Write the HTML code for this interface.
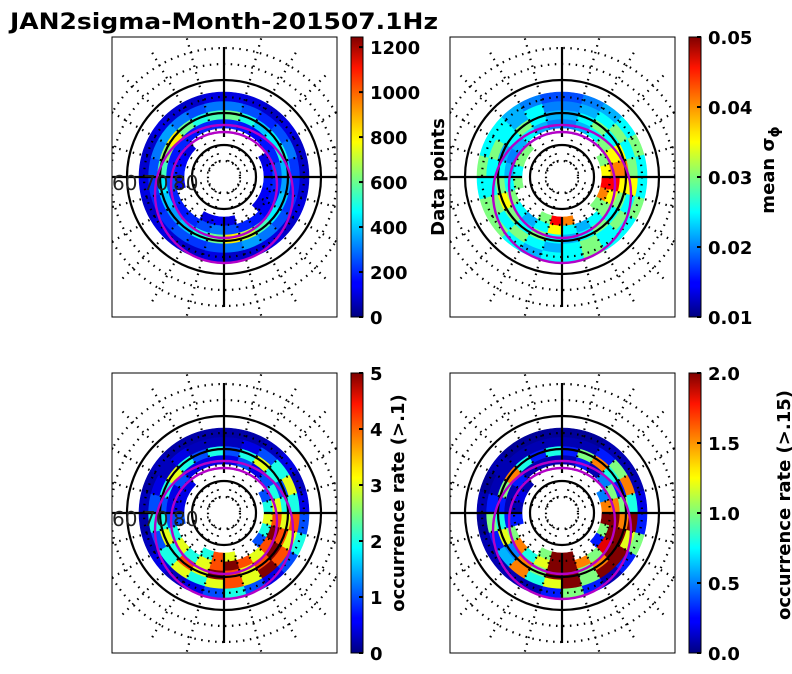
<!DOCTYPE html>
<html><head><meta charset="utf-8"><style>
body{margin:0;background:#fff;}
svg{display:block;font-family:"DejaVu Sans","Liberation Sans",sans-serif;}
.tk{font-size:18px;font-weight:bold;fill:#000;}
</style></head><body>
<svg id="s" width="792" height="674" viewBox="0 0 792 674" xmlns="http://www.w3.org/2000/svg">
<defs>
<linearGradient id="jet" x1="0" y1="1" x2="0" y2="0">
<stop offset="0" stop-color="#00007f"/><stop offset="0.11" stop-color="#0000ff"/><stop offset="0.125" stop-color="#0000ff"/>
<stop offset="0.34" stop-color="#00dcff"/><stop offset="0.375" stop-color="#00ffff"/><stop offset="0.5" stop-color="#7dff7a"/>
<stop offset="0.625" stop-color="#ffff00"/><stop offset="0.66" stop-color="#ffe600"/><stop offset="0.89" stop-color="#ff1400"/>
<stop offset="1" stop-color="#7f0000"/>
</linearGradient>
</defs>
<text x="10" y="29" font-size="22" font-weight="bold" textLength="428" lengthAdjust="spacingAndGlyphs">JAN2sigma-Month-201507.1Hz</text>
</svg>
<script>
// ring-by-ring values (inner -> outer), 24 MLT sectors each, sector 0 at top, clockwise
const p1r0=[null,null,null,null,120,150,180,150,120,null,null,120,150,120,null,null,null,150,180,150,120,null,null,null];
const p1r1=[200,180,150,180,200,250,200,180,150,180,200,250,300,250,200,180,200,250,200,180,200,180,200,200];
const p1r2=[600,500,400,450,500,380,350,400,450,550,700,800,600,500,400,350,400,450,550,650,800,600,500,550];
const p1r3=[300,250,200,250,300,220,200,220,250,300,350,300,250,220,250,220,200,220,250,300,350,300,250,300];
const p1r4=[120,110,90,120,90,90,100,120,90,120,100,90,120,90,100,120,90,120,100,90,120,100,90,120];
const p2r0=[null,null,null,null,.03,.035,.045,.04,.03,null,null,.04,.045,.03,null,null,null,.03,.025,.03,.03,null,null,null];
const p2r1=[.02,.022,.025,.03,.035,.04,.045,.035,.03,.025,.022,.025,.035,.025,.022,.025,.03,.025,.022,.02,.022,.025,.022,.02];
const p2r2=[.022,.025,.03,.025,.035,.04,.035,.03,.025,.03,.025,.022,.025,.03,.025,.03,.035,.03,.025,.022,.025,.03,.025,.022];
const p2r3=[.02,.022,.025,.03,.025,.03,.035,.025,.03,.025,.03,.025,.022,.025,.03,.025,.03,.025,.025,.03,.025,.022,.025,.02];
const p2r4=[.018,.02,.022,.025,.03,.025,.025,.03,.025,.025,.03,.025,.025,.022,.025,.03,.03,.025,.03,.025,.025,.022,.02,.018];
const p3r0=[null,null,null,null,1,2,3,2,1,null,null,3,4,2,null,null,null,1,.5,.5,.5,null,null,null];
const p3r1=[.5,1,.5,1,2,3,4,5,4,3,4,5,4,3,2,3,2,1,.5,.5,1,.5,.5,.5];
const p3r2=[1,2,3,2,1,2,3,4,5,4,3,4,5,3,4,2,3,2,1,2,3,2,1,2];
const p3r3=[.3,.5,1,2,3,2,4,3,4,5,3,4,3,2,3,2,1,2,1,.5,.3,.5,.3,.3];
const p3r4=[.2,.2,.3,.5,.3,.5,1,2,1,.5,1,2,1,.5,.3,.5,.3,.2,.3,.2,.3,.2,.2,.2];
const p4r0=[null,null,null,null,.5,1.5,2,1,.3,null,null,2,2,1,null,null,null,.3,.1,.2,.1,null,null,null];
const p4r1=[.1,.3,.1,.5,1,1.5,2,2,1.8,1,1.5,2,2,1.2,.8,1.5,1,.3,.1,.1,.3,.1,.1,.1];
const p4r2=[.3,1,1.5,.8,.3,1,1.5,2,2,1.5,1,2,2,1,1.5,.5,1.2,.8,.3,1,1.5,.8,.3,.8];
const p4r3=[.1,.1,.3,1,1.5,.8,2,1.2,2,2,1,2,1.2,.8,1.5,.6,.3,1,.3,.1,.1,.1,.1,.1];
const p4r4=[.05,.05,.1,.1,.1,.2,.3,1,.3,.1,.3,1,.3,.1,.1,.1,.1,.05,.1,.05,.1,.05,.05,.05];
const ticks1=[0,200,400,600,800,1000,1200];
const ticks2=[0.01,0.02,0.03,0.04,0.05];
const ticks3=[0,1,2,3,4,5];
const ticks4=[0.0,0.5,1.0,1.5,2.0];
const ringLabels=["60","70","80"];

const NS="http://www.w3.org/2000/svg", S=document.getElementById('s');
function mk(t,a,p){const e=document.createElementNS(NS,t);for(const k in a)e.setAttribute(k,a[k]);(p||S).appendChild(e);return e;}
function jet(t){t=Math.max(0,Math.min(1,t));
 const r=Math.max(0,Math.min(1,1.5-Math.abs(4*t-3))),g=Math.max(0,Math.min(1,1.5-Math.abs(4*t-2))),b=Math.max(0,Math.min(1,1.5-Math.abs(4*t-1)));
 return `rgb(${Math.round(r*255)},${Math.round(g*255)},${Math.round(b*255)})`;}
const R0=40, DR=9, NSEC=24;
function ringR(i){return R0+i*DR;}
function ang(s){return (s/NSEC)*2*Math.PI;}
function pt(cx,cy,r,a){return [cx+r*Math.sin(a),cy-r*Math.cos(a)];}

function panel(px,py,rings,vmin,vmax,ticks,fmt,label,lx,ly,idx){
 const g=mk('g',{});
 
 
 const cp=mk('clipPath',{id:'cp'+idx},g);mk('rect',{x:px,y:py,width:225,height:280},cp);
 const inner=mk('g',{'clip-path':'url(#cp'+idx+')'},g);
 const cx=px+112,cy=py+140;
 rings.forEach((vals,ri)=>{
  vals.forEach((v,si)=>{
   if(v===null)return;
   const r1=ringR(ri),r2=r1+DR,a1=ang(si),a2=ang(si+1);
   const [x1,y1]=pt(cx,cy,r1,a1),[x2,y2]=pt(cx,cy,r2,a1),[x3,y3]=pt(cx,cy,r2,a2),[x4,y4]=pt(cx,cy,r1,a2);
   const col=jet((v-vmin)/(vmax-vmin));
   const c=mk('path',{d:`M${x1},${y1}L${x2},${y2}A${r2},${r2} 0 0 1 ${x3},${y3}L${x4},${y4}A${r1},${r1} 0 0 0 ${x1},${y1}Z`,fill:col,stroke:col,'stroke-width':0.6},inner);
   
   
  });
 });
 [16,48,80,113,129].forEach(r=>mk('circle',{cx,cy,r,fill:'none',stroke:'#000','stroke-width':2.2,'stroke-dasharray':'1.5 5.5'},inner));
 for(let k=0;k<24;k++){const a=k*Math.PI/12;const [x1,y1]=pt(cx,cy,16,a),[x2,y2]=pt(cx,cy,145,a);
  if(k%6!==0)mk('line',{x1,y1,x2,y2,stroke:'#000','stroke-width':2.2,'stroke-dasharray':'1.5 5.5'},inner);}
 [32,64,97].forEach(r=>mk('circle',{cx,cy,r,fill:'none',stroke:'#000','stroke-width':2.2},inner));
 mk('line',{x1:cx,y1:cy-130,x2:cx,y2:cy-40,stroke:'#000','stroke-width':2.2},inner);
 mk('line',{x1:cx,y1:cy+40,x2:cx,y2:cy+130,stroke:'#000','stroke-width':2.2},inner);
 mk('line',{x1:px,y1:cy,x2:cx-40,y2:cy,stroke:'#000','stroke-width':2.2},inner);
 mk('line',{x1:cx+40,y1:cy,x2:px+225,y2:cy,stroke:'#000','stroke-width':2.2},inner);
 const m1=mk('circle',{cx:cx,cy:cy+17,r:69,fill:'none',stroke:'#b400c8','stroke-width':2.4},inner);
 
 const m2=mk('circle',{cx:cx,cy:cy+8,r:53,fill:'none',stroke:'#b400c8','stroke-width':2.4},inner);
 
 [112,143,173].forEach((x,i)=>{const t=mk('text',{x:x,y:cy+13,'font-size':20,fill:'#222'},inner);t.textContent=ringLabels[i];
  });
 mk('rect',{x:px,y:py,width:225,height:280,fill:'none',stroke:'#000','stroke-width':1},g);
 const bx=px+239,by=py,bh=280;
 const cb=mk('rect',{x:bx,y:by,width:12,height:bh,fill:'url(#jet)',stroke:'#000','stroke-width':1},g);
 
 ticks.forEach(v=>{const y=by+bh-(v-vmin)/(vmax-vmin)*bh;
  mk('line',{x1:bx+8,y1:y,x2:bx+12,y2:y,stroke:'#000','stroke-width':2},g);
  const t=mk('text',{x:bx+19,y:y+7,class:'tk'},g);t.textContent=fmt(v);
  });
 const lt=mk('text',{x:lx,y:ly,'font-size':18,'font-weight':'bold','text-anchor':'middle',transform:`rotate(-90 ${lx} ${ly})`},g);
 lt.innerHTML=label;
 
}
panel(112,37,[p1r0,p1r1,p1r2,p1r3,p1r4],0,1245,ticks1,v=>String(v),'Data points',444,177,1);
panel(450,37,[p2r0,p2r1,p2r2,p2r3,p2r4],0.01,0.05,ticks2,v=>v.toFixed(2),'mean σ<tspan dy="5" font-size="14">ϕ</tspan>',774,170,2);
panel(112,373,[p3r0,p3r1,p3r2,p3r3,p3r4],0,5,ticks3,v=>String(v),'occurrence rate (&gt;.1)',404,503,3);
panel(450,373,[p4r0,p4r1,p4r2,p4r3,p4r4],0,2,ticks4,v=>v.toFixed(1),'occurrence rate (&gt;.15)',790,505,4);
</script>
</body></html>
